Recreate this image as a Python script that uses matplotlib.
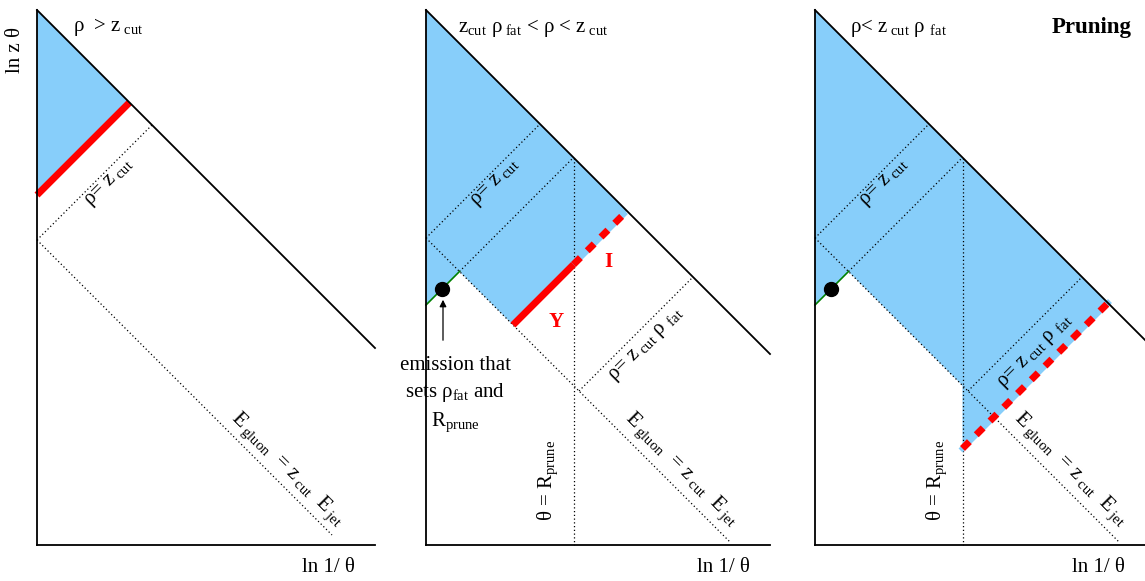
import matplotlib
matplotlib.use("Agg")
import matplotlib.pyplot as plt
from matplotlib.patches import Polygon

plt.rcParams['font.family'] = ['Liberation Serif', 'DejaVu Serif']
plt.rcParams['mathtext.fontset'] = 'custom'
plt.rcParams['mathtext.rm'] = 'Liberation Serif'
plt.rcParams['mathtext.it'] = 'Liberation Serif:italic'
plt.rcParams['mathtext.bf'] = 'Liberation Serif:bold'

# panel geometry (pixel-like schematic coordinates)
panel_x0 = [37, 426, 815]
panel_xend = [375, 770, 1145]
top_y = 10
bottom_y = 545
blue = '#87cefa'
red = '#ff0000'

fig = plt.figure(figsize=(11.45, 5.81), dpi=100)
ax = fig.add_axes([0, 0, 1, 1])
ax.set_xlim(0, 1145); ax.set_ylim(581, 0); ax.axis('off')
FS = 15
dot = dict(color='black', lw=0.9, ls=(0, (1, 2)))

RZ = 'ρ= z$_{\\rm\\ cut}$'
EG = 'E$_{\\rm\\ gluon}$  = z$_{\\rm\\ cut}$  E$_{\\rm\\ jet}$'
RZF = 'ρ= z$_{\\rm\\ cut}$ ρ $_{\\rm fat}$'
TP = 'θ = R$_{\\rm prune}$'

def hyp(x0, x):
    return top_y + (x - x0)

for x0, xe in zip(panel_x0, panel_xend):
    ax.plot([x0, x0], [top_y, bottom_y], color='black', lw=1.3, zorder=5)
    ax.plot([x0, xe], [bottom_y, bottom_y], color='black', lw=1.3, zorder=5)
    ax.plot([x0, xe], [top_y, hyp(x0, xe)], color='black', lw=1.3, zorder=5)
    ax.text(xe - 20, 568, 'ln 1/ θ', fontsize=FS, ha='right', va='center')

ax.text(15, 50, 'ln z θ', fontsize=FS, rotation=90, ha='center', va='center')

# ---------- panel 1 ----------
x0 = 37
s_red, s_dot = 232, 277
xr = (s_red + x0 - top_y) / 2
ax.add_patch(Polygon([(x0, top_y), (xr, s_red - xr), (x0, s_red - x0)], color=blue, lw=0, zorder=1))
ax.plot([x0, xr], [s_red - x0, s_red - xr], color=red, lw=5, solid_capstyle='butt', zorder=4)
xd = (s_dot + x0 - top_y) / 2
ax.plot([x0, xd], [s_dot - x0, s_dot - xd], **dot)
ax.plot([x0, x0 + 295], [s_dot - x0, s_dot - x0 + 295], **dot)
ax.text(110, 183, RZ, fontsize=FS, rotation=45, ha='center', va='center')
ax.text(287, 470, EG, fontsize=FS, rotation=-45, ha='center', va='center')
ax.text(73, 27, 'ρ  > z$_{\\rm\\ cut}$', fontsize=FS, ha='left', va='center')

# ---------- panels 2 & 3 ----------
def common(x0):
    sh = x0 - 426
    s1, s2, s3 = 664 + sh, 731 + sh, 970 + sh
    d = 188 + sh  # x - y for E_gluon line
    xa = (s1 + x0 - top_y) / 2
    ax.plot([x0, xa], [s1 - x0, s1 - xa], **dot)
    xb = (s2 + x0 - top_y) / 2
    xg = (s2 + d) / 2
    ax.plot([xg, xb], [s2 - xg, s2 - xb], **dot)
    ax.plot([x0, xg], [s2 - x0, s2 - xg], color='green', lw=1.2, zorder=4)
    ax.plot([x0, bottom_y + d - 3], [x0 - d, bottom_y - 3], **dot)
    ax.plot([xb, xb], [s2 - xb, bottom_y], **dot)
    xc0 = (s3 + d) / 2
    xc1 = (s3 + x0 - top_y) / 2
    ax.plot([xc0, xc1], [s3 - xc0, s3 - xc1], **dot)
    ax.plot([x0 + 16], [s2 - x0 - 16], 'o', color='black', ms=10, zorder=6)
    ax.text(xb - 26, 480, TP, fontsize=FS, rotation=90, ha='center', va='center')
    ax.text(x0 + 70, 183, RZ, fontsize=FS, rotation=45, ha='center', va='center')
    ax.text(x0 + 255, 470, EG, fontsize=FS, rotation=-45, ha='center', va='center')
    return s2, d, xb

def dashed_red(xa, xb_, s):
    ax.plot([xa, xb_], [s - xa, s - xb_], color=blue, lw=4, zorder=3)
    ax.plot([xa, xb_], [s - xa, s - xb_], color=red, lw=5, ls=(0, (1.4, 1.4)), zorder=4)

# panel 2
x0 = 426
s2, d, xb = common(x0)
s_red = 838
xh = (s_red + x0 - top_y) / 2
xl = (s_red + d) / 2
xg = (s2 + d) / 2
ax.add_patch(Polygon([(x0, top_y), (xh, s_red - xh), (xl, s_red - xl), (xg, s2 - xg), (x0, s2 - x0)],
                     color=blue, lw=0, zorder=1))
ax.plot([xl, xb], [s_red - xl, s_red - xb], color=red, lw=5, solid_capstyle='butt', zorder=4)
dashed_red(xb, xh - 3, s_red)
ax.text(556, 322, 'Y', color=red, fontsize=FS, fontweight='bold', ha='center', va='center')
ax.text(608, 262, 'I', color=red, fontsize=FS, fontweight='bold', ha='center', va='center')
ax.annotate('', xy=(443, 297), xytext=(443, 343),
            arrowprops=dict(arrowstyle='-|>', color='black', lw=0.9, mutation_scale=10))
ax.text(455, 395, 'emission that\nsets ρ$_{\\rm fat}$ and\nR$_{\\rm prune}$',
        fontsize=FS, ha='center', va='center', linespacing=1.4)
ax.text(647, 345, RZF, fontsize=FS, rotation=45, ha='center', va='center')
ax.text(458, 28, 'z$_{\\rm cut}$ ρ$_{\\rm\\ fat}$ < ρ < z$_{\\rm\\ cut}$', fontsize=FS, ha='left', va='center')

# panel 3
x0 = 815
s2, d, xb = common(x0)
s_red = 1411
xh = (s_red + x0 - top_y) / 2
xg = (s2 + d) / 2
ax.add_patch(Polygon([(x0, top_y), (xh, s_red - xh), (xb, s_red - xb), (xb, xb - d), (xg, s2 - xg), (x0, s2 - x0)],
                     color=blue, lw=0, zorder=1))
dashed_red(xb, xh, s_red)
ax.text(1036, 352, RZF, fontsize=FS, rotation=45, ha='center', va='center')
ax.text(850, 28, 'ρ< z$_{\\rm\\ cut}$ ρ $_{\\rm fat}$', fontsize=FS, ha='left', va='center')
ax.text(1052, 28, 'Pruning', fontsize=16.5, fontweight='bold', ha='left', va='center')

fig.savefig('out.png', dpi=100)
